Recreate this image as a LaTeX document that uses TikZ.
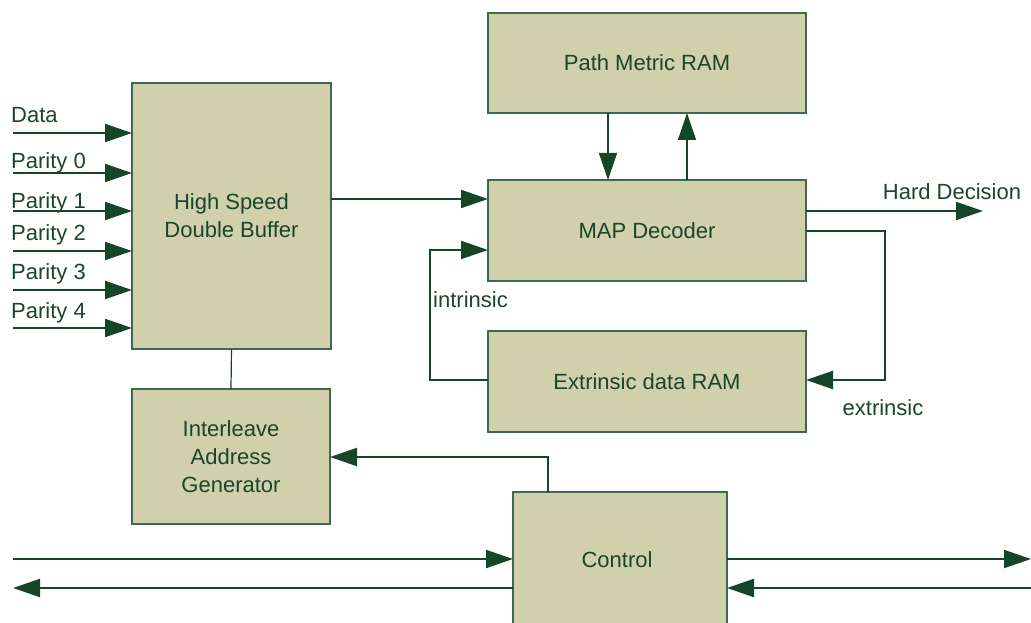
\documentclass[tikz,border=0pt]{standalone}
\usepackage{fontspec}
\setmainfont{Liberation Sans}
\usetikzlibrary{arrows.meta}
\definecolor{boxfill}{RGB}{208,208,172}
\definecolor{boxline}{RGB}{62,105,78}
\definecolor{wire}{RGB}{22,70,40}
\definecolor{txt}{RGB}{28,68,42}
\tikzset{
  blk/.style={draw=boxline, line width=1.2pt, fill=boxfill, inner sep=0pt, outer sep=0pt,
    text=txt, align=center, font=\fontsize{22}{28}\selectfont},
  arr/.style={draw=wire, line width=2pt, -{Triangle[length=27pt,width=18pt]}},
  wireline/.style={draw=wire, line width=2pt},
  lbl/.style={text=txt, font=\fontsize{22}{26}\selectfont, inner sep=0pt}
}
\begin{document}
\begin{tikzpicture}[x=1pt,y=-1pt]
\useasboundingbox (0,0) rectangle (1031,623);
% blocks
\node[blk, minimum width=199pt, minimum height=266pt] (buf) at (231.5,216) {High Speed\\Double Buffer};
\node[blk, minimum width=318pt, minimum height=100pt] (pmr) at (647,63) {Path Metric RAM};
\node[blk, minimum width=318pt, minimum height=101pt] (map) at (647,230.5) {MAP Decoder};
\node[blk, minimum width=318pt, minimum height=101pt] (eram) at (647,381.5) {Extrinsic data RAM};
\node[blk, minimum width=198pt, minimum height=135pt] (iag) at (231,456.5) {Interleave\\Address\\Generator};
\node[blk, minimum width=214pt, minimum height=140pt] (ctl) at (620,562) {};
\node[lbl] (ctltxt) at (617,560) {Control};
% inputs
\foreach \y/\b/\t [count=\i] in {133/123/Data,173/168/Parity 0,211/208/Parity 1,251/240/Parity 2,290/279/Parity 3,328/318/Parity 4}{
  \coordinate (in\i) at (13,\y);
  \node[lbl, anchor=base west] (inl\i) at (11,\b) {\t};
  \draw[arr] (in\i) -- (in\i -| buf.west);
}
% buffer to MAP
\coordinate (bm) at (331,199);
\draw[arr] (bm) -- (bm -| map.west);
% buffer to interleave
\draw[wireline, line width=1.2pt] (buf.south) -- (iag.north);
% path metric
\coordinate (pd) at (608,113);
\coordinate (pu) at (687,180);
\draw[arr, line width=1.5pt] (pd) -- (pd |- map.north);
\draw[arr, line width=1.5pt] (pu) -- (pu |- pmr.south);
% hard decision
\coordinate (hd) at (983,211);
\draw[arr] (map.east |- hd) -- (hd);
\node[lbl, anchor=base] (hdl) at (952,199) {Hard Decision};
% extrinsic
\coordinate (ex1) at (806,231);
\coordinate (ex2) at (885,380);
\draw[arr] (ex1) -| (ex2) -- (ex2 -| eram.east);
\node[lbl, anchor=base] (exl) at (883,415) {extrinsic};
% intrinsic
\coordinate (in1a) at (488,380);
\coordinate (in2a) at (430,250);
\draw[arr] (in1a) -| (in2a) -- (in2a -| map.west);
\node[lbl, anchor=base west] (inl) at (433,307) {intrinsic};
% control to interleave
\coordinate (ci) at (548,457);
\draw[arr] (ci |- ctl.north) -- (ci) -- (ci -| iag.east);
% bottom buses
\coordinate (bl1) at (13,559);
\coordinate (bl2) at (13,588);
\coordinate (br1) at (1031,559);
\coordinate (br2) at (1031,588);
\draw[arr] (bl1) -- (bl1 -| ctl.west);
\draw[arr] (bl2 -| ctl.west) -- (bl2);
\draw[arr] (br1 -| ctl.east) -- (br1);
\draw[arr] (br2) -- (br2 -| ctl.east);
\end{tikzpicture}
\end{document}
